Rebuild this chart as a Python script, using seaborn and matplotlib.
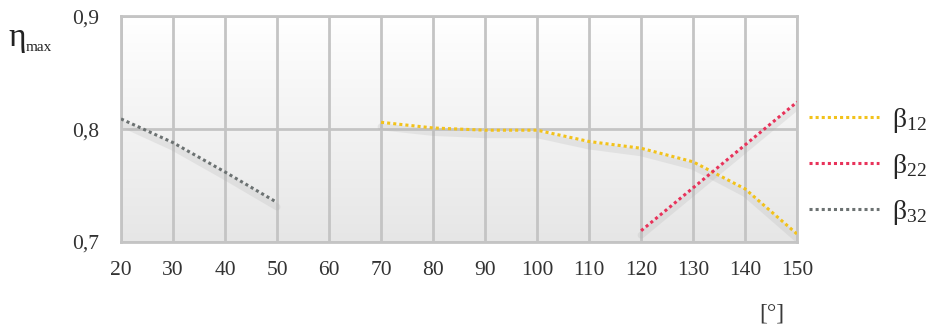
import numpy as np
import pandas as pd
import matplotlib
matplotlib.use("Agg")
import matplotlib.pyplot as plt
import seaborn as sns
from matplotlib.lines import Line2D

# Angle values [deg] and maximum efficiency for each configuration
angle_b12 = [70, 80, 90, 100, 110, 120, 130, 140, 150]
eta_b12 = [0.806, 0.801, 0.799, 0.799, 0.789, 0.783, 0.771, 0.747, 0.707]

angle_b22 = [120, 130, 140, 150]
eta_b22 = [0.710, 0.748, 0.786, 0.824]

angle_b32 = [20, 30, 40, 50]
eta_b32 = [0.809, 0.788, 0.762, 0.735]

series_names = ["β$_{12}$", "β$_{22}$", "β$_{32}$"]
series_colors = ["#f2c21b", "#e8325a", "#6c7272"]

x_ticks = list(range(20, 151, 10))
y_ticks = [0.7, 0.8, 0.9]
y_ticklabels = ["0,7", "0,8", "0,9"]

df = pd.concat([
    pd.DataFrame({"angle": angle_b12, "eta": eta_b12, "series": series_names[0]}),
    pd.DataFrame({"angle": angle_b22, "eta": eta_b22, "series": series_names[1]}),
    pd.DataFrame({"angle": angle_b32, "eta": eta_b32, "series": series_names[2]}),
])

sns.set_theme(style="white")
plt.rcParams["font.family"] = ["Liberation Serif", "DejaVu Serif"]
plt.rcParams["mathtext.fontset"] = "custom"
plt.rcParams["mathtext.rm"] = "Liberation Serif"
plt.rcParams["mathtext.it"] = "Liberation Serif"
plt.rcParams["mathtext.default"] = "regular"

fig = plt.figure(figsize=(9.28, 3.29), dpi=100)
ax = fig.add_axes([0.1304, 0.2644, 0.7286, 0.6866])

# soft vertical gradient in the plotting area: white on top, light grey below
grad = np.linspace(0.0, 1.0, 256).reshape(-1, 1)
ax.imshow(grad, extent=(20, 150, 0.7, 0.9), aspect="auto",
          cmap=matplotlib.colors.LinearSegmentedColormap.from_list(
              "bg", ["#ffffff", "#e6e6e6"]), vmin=0, vmax=1, zorder=0)

# faint drop shadow under each curve
shadow = df.copy()
shadow["eta"] = shadow["eta"] - 0.004
sns.lineplot(data=shadow, x="angle", y="eta", hue="series", units="series",
             estimator=None, palette=["#b0b0b0"] * 3, linewidth=5, alpha=0.22,
             legend=False, ax=ax, zorder=2)

sns.lineplot(data=df, x="angle", y="eta", hue="series",
             palette=series_colors, linewidth=2.2, linestyle=(0, (1, 1)),
             ax=ax, legend=False, zorder=3)

ax.set_xlim(20, 150)
ax.set_ylim(0.7, 0.9)
ax.set_xticks(x_ticks)
ax.set_yticks(y_ticks)
ax.set_yticklabels(y_ticklabels)
ax.grid(True, color="#c4c4c4", linewidth=2, zorder=1)
ax.set_axisbelow(True)
for s in ax.spines.values():
    s.set_color("#c4c4c4")
    s.set_linewidth(2)
ax.tick_params(axis="both", length=0, labelsize=15.5, colors="#333333", pad=14)
ax.tick_params(axis="y", pad=16)
ax.set_xlabel("")
ax.set_ylabel("")

fig.text(0.009, 0.86, "η", fontsize=24, color="#222222")
fig.text(0.028, 0.845, "max", fontsize=11, color="#222222")
fig.text(0.818, 0.03, "[°]", fontsize=17, color="#3a3a3a")

handles = [Line2D([], [], color=c, linewidth=2.2, linestyle=(0, (1, 1)))
           for c in series_colors]
fig.legend(handles, series_names, loc="upper left", bbox_to_anchor=(0.845, 0.755),
           frameon=False, fontsize=20, handlelength=2.5, labelspacing=0.62,
           handletextpad=0.5)

fig.savefig("out.png", dpi=100)
